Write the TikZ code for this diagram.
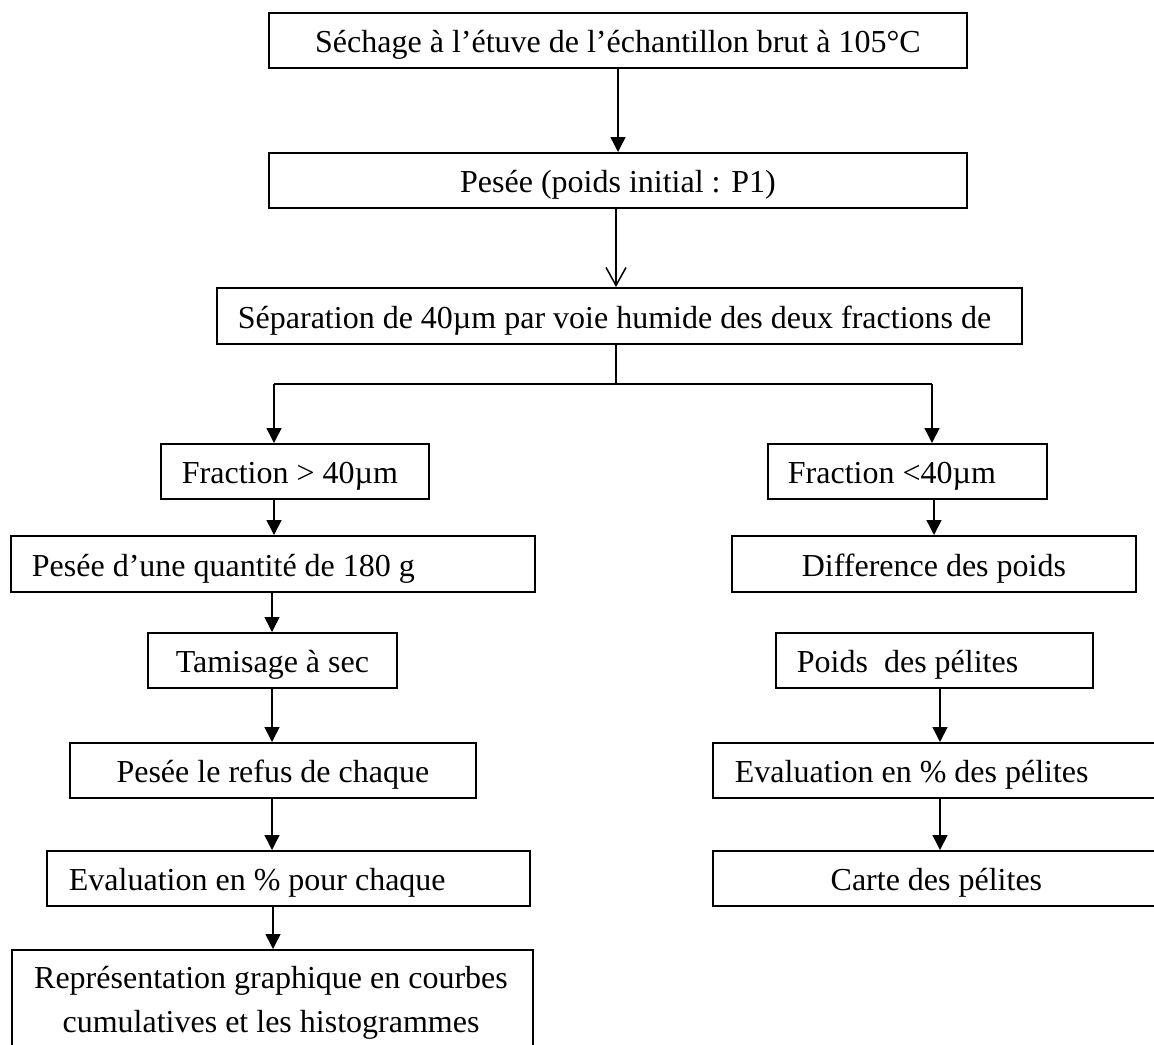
\documentclass[tikz,border=0pt]{standalone}
\usepackage{fontspec}
\setmainfont{Liberation Serif}
\usetikzlibrary{arrows.meta}
\newcommand{\lefttext}[2]{\makebox[#1][l]{#2}}
\begin{document}
\begin{tikzpicture}[x=0.5pt,y=-0.5pt,
  box/.style={draw, line width=0.9pt, inner sep=0pt, minimum height=27.5pt,
    text height=12.5pt, text depth=0pt, anchor=north west,
    font=\fontsize{16pt}{22pt}\selectfont},
  cbox/.style={box, minimum width=#1},
  lbox/.style={box, inner xsep=#1},
  link/.style={line width=0.75pt},
  arr/.style={link, -{Triangle[length=7.5pt,width=7.5pt]}},
  oarr/.style={link, -{Straight Barb[length=9pt,width=10pt,line width=0.75pt]}},
  txt/.style={anchor=base, inner sep=0pt, font=\fontsize{16pt}{22pt}\selectfont}]
\clip (0,0) rectangle (1154,1044);
% boxes
\node[cbox=349pt] (b1) at (268,12) {Séchage à l’étuve de l’échantillon brut à 105°C};
\node[cbox=349pt] (b2) at (268,152) {Pesée (poids initial : P1)};
\node[lbox=10.5pt, minimum height=28pt] (b3) at (216,287) {\lefttext{381.5pt}{Séparation de 40µm par voie humide des deux fractions de}};
\node[lbox=10.5pt] (b4) at (160,443) {\lefttext{113pt}{Fraction > 40µm}};
\node[lbox=10pt] (b5) at (767,443) {\lefttext{119.5pt}{Fraction <40µm}};
\node[lbox=10.5pt, minimum height=28pt] (b6) at (10,535) {\lefttext{241pt}{Pesée d’une quantité de 180 g}};
\node[cbox=202pt, minimum height=28pt] (b7) at (731,535) {Difference des poids};
\node[cbox=124.5pt] (b8) at (147,632) {Tamisage à sec};
\node[lbox=10.5pt] (b9) at (775,632) {\lefttext{137.5pt}{Poids\ \ des pélites}};
\node[cbox=203pt] (b10) at (69,742) {Pesée le refus de chaque};
\node[lbox=11pt] (b11) at (712,742) {\lefttext{201.5pt}{Evaluation en \% des pélites}};
\node[lbox=11pt] (b12) at (46,850) {\lefttext{219.5pt}{Evaluation en \% pour chaque}};
\node[cbox=223.5pt] (b13) at (712,850) {Carte des pélites};
\node[draw, line width=0.9pt, inner sep=0pt, anchor=north west, minimum width=260.5pt, minimum height=75pt] (b14) at (11,949) {};
\node[txt] (t14a) at (271,988) {Représentation graphique en courbes};
\node[txt] (t14b) at (271,1032) {cumulatives et les histogrammes};
% connector x positions
\coordinate (c1) at (618,0);
\coordinate (c2) at (616,0);
\coordinate (hj) at (616,384);
\coordinate (hl) at (274,384);
\coordinate (hr) at (932,384);
\coordinate (cR2) at (934,0);
\coordinate (cL2) at (272,0);
\coordinate (cL3) at (273,0);
\coordinate (cR3) at (940,0);
% connectors
\draw[arr] (b1.south -| c1) -- (b2.north -| c1);
\draw[oarr] (b2.south -| c2) -- (b3.north -| c2);
\draw[link] (b3.south -| c2) -- (hj);
\draw[link] (hl) -- (hr);
\draw[arr] (hl) -- (b4.north -| hl);
\draw[arr] (hr) -- (b5.north -| hr);
\draw[arr] (b4.south -| hl) -- (b6.north -| hl);
\draw[arr] (b5.south -| cR2) -- (b7.north -| cR2);
\draw[arr] (b6.south -| cL2) -- (b8.north -| cL2);
\draw[arr] (b8.south -| cL2) -- (b10.north -| cL2);
\draw[arr] (b10.south -| cL2) -- (b12.north -| cL2);
\draw[arr] (b12.south -| cL3) -- (b14.north -| cL3);
\draw[arr] (b9.south -| cR3) -- (b11.north -| cR3);
\draw[arr] (b11.south -| cR3) -- (b13.north -| cR3);
\end{tikzpicture}
\end{document}
